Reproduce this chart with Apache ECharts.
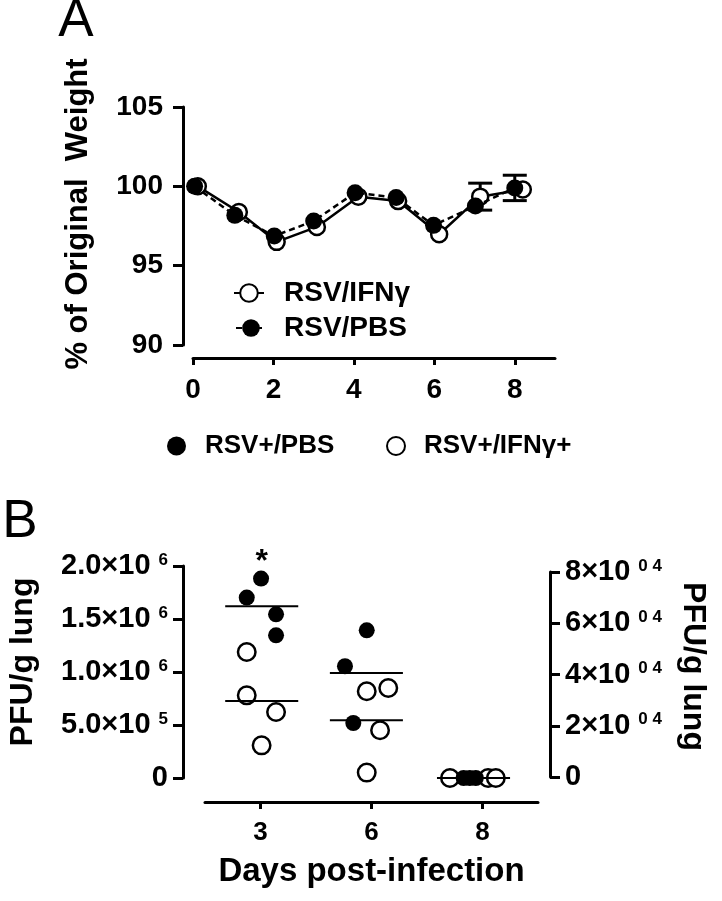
<!DOCTYPE html>
<html>
<head>
<meta charset="utf-8">
<script src="https://cdn.jsdelivr.net/npm/echarts@6/dist/echarts.min.js"></script>
<style>html,body{margin:0;padding:0;background:#fff}#c{width:722px;height:901px}</style>
</head>
<body>
<div id="c"></div>
<script>
// ---------- Panel A data (weight) ----------
const daysA = [0, 1, 2, 3, 4, 5, 6, 7, 8];
const xPBS_A = [0.04, 1.04, 2.02, 3.0, 4.03, 5.05, 5.98, 7.02, 8.0];
const xIFN_A = [0.12, 1.14, 2.08, 3.08, 4.11, 5.1, 6.12, 7.14, 8.2];
const weightPBS = [100, 98.17, 96.87, 97.81, 99.6, 99.29, 97.54, 98.76, 99.9];
const weightIFN = [100, 98.38, 96.5, 97.44, 99.35, 99.07, 96.98, 99.35, 99.8];
const errPBS = [0, 0, 0, 0, 0, 0, 0, 0, 0.8];
const errIFN = [0, 0, 0, 0, 0, 0, 0, 0.85, 0];
const xTicksA = [0, 2, 4, 6, 8];

// ---------- Panel B data (PFU/g lung) ----------
const categoriesB = ['3', '6', '8'];
const pbsX = [0.005, -0.124, 0.14, 0.14, 0.957, 0.761, 0.836, 1.83, 1.885, 1.94];
const pbsY = [1.881e6, 1.702e6, 1.544e6, 1.346e6, 1.393e6, 1.054e6, 0.519e6, 0, 0, 0];
const ifnX = [-0.124, -0.124, 0.14, 0.01, 0.957, 1.151, 1.077, 0.957, 1.707, 2.05, 2.12];
const ifnY = [1.189e6, 0.780e6, 0.623e6, 0.308e6, 0.818e6, 0.849e6, 0.450e6, 0.051e6, 0, 0, 0];
const meanX = [0.011, 0.954, 1.919];
const meanPBS = [1.620e6, 0.991e6, 0];
const meanIFN = [0.726e6, 0.544e6, 0];
const sigX = [0.01];
const sigY = [2.0e6];
const leftTickMant = ['0', '5.0×10', '1.0×10', '1.5×10', '2.0×10'];
const leftTickExp = ['', '5', '6', '6', '6'];
const rightTickMant = ['0', '2×10', '4×10', '6×10', '8×10'];
const rightTickExp = ['', '0 4', '0 4', '0 4', '0 4'];

const K = '#000';
const FONT = '"Liberation Sans", Arial, Helvetica, sans-serif';
const zip = (xs, ys) => xs.map((x, i) => [x, ys[i]]);

function errorSeries(xs, ys, es) {
  return {
    type: 'custom', xAxisIndex: 0, yAxisIndex: 0, silent: true, z: 2,
    data: xs.map((x, i) => [x, ys[i], es[i]]).filter(d => d[2] > 0),
    renderItem(params, api) {
      const x = api.value(0), y = api.value(1), e = api.value(2);
      const t = api.coord([x, y + e]), b = api.coord([x, y - e]);
      const hw = 12, st = { stroke: K, lineWidth: 3 };
      return { type: 'group', children: [
        { type: 'line', shape: { x1: t[0], y1: t[1], x2: b[0], y2: b[1] }, style: st },
        { type: 'line', shape: { x1: t[0] - hw, y1: t[1], x2: t[0] + hw, y2: t[1] }, style: st },
        { type: 'line', shape: { x1: b[0] - hw, y1: b[1], x2: b[0] + hw, y2: b[1] }, style: st }
      ] };
    }
  };
}
function meanSeries(ys) {
  return {
    type: 'custom', xAxisIndex: 2, yAxisIndex: 1, silent: true, z: 10,
    data: zip(meanX, ys),
    renderItem(params, api) {
      const x = api.value(0), y = api.value(1);
      const a = api.coord([x - 0.329, y]), b = api.coord([x + 0.329, y]);
      return { type: 'line', shape: { x1: a[0], y1: a[1], x2: b[0], y2: b[1] }, style: { stroke: K, lineWidth: 2 } };
    }
  };
}

const axisLine = { show: true, onZero: false, lineStyle: { color: K, width: 3 } };
const lblBase = { color: K, fontWeight: 'bold', fontFamily: FONT };
const rich = {
  b: { fontSize: 29, fontWeight: 'bold', fontFamily: FONT, color: K },
  s: { fontSize: 17, fontWeight: 'bold', fontFamily: FONT, color: K, verticalAlign: 'top', padding: [0, 0, 0, 8] },
  z: { fontSize: 29, fontWeight: 'bold', fontFamily: FONT, color: K }
};

const legText = (pad, size) => ({ color: K, fontSize: size, fontWeight: 'bold', fontFamily: FONT, padding: [0, 0, 0, pad] });

const option = {
  animation: false,
  backgroundColor: '#fff',
  grid: [
    { left: 193, top: 107, width: 362, height: 238 },
    { left: 205, top: 566, width: 333, height: 212 },
    { left: 205, top: 572, width: 333, height: 205 }
  ],
  xAxis: [
    { gridIndex: 0, type: 'value', min: 0, max: 9, offset: 13, axisLine,
      axisTick: { show: true, length: 7, lineStyle: { color: K, width: 3 }, customValues: xTicksA },
      axisLabel: Object.assign({ fontSize: 28, margin: 18, customValues: xTicksA }, lblBase),
      splitLine: { show: false } },
    { gridIndex: 1, type: 'category', data: categoriesB, offset: 24, axisLine,
      axisTick: { show: true, alignWithLabel: true, length: 7, lineStyle: { color: K, width: 3 } },
      axisLabel: Object.assign({ fontSize: 26, margin: 18 }, lblBase),
      name: 'Days post-infection', nameLocation: 'middle', nameGap: 53,
      nameTextStyle: { color: K, fontSize: 33, fontWeight: 'bold', fontFamily: FONT } },
    { gridIndex: 1, type: 'value', min: -0.5, max: 2.5, show: false },
    { gridIndex: 2, type: 'value', min: 0, max: 1, show: false }
  ],
  yAxis: [
    { gridIndex: 0, type: 'value', min: 90, max: 105, interval: 5, offset: 10, axisLine,
      axisTick: { show: true, length: 10, lineStyle: { color: K, width: 3 } },
      axisLabel: Object.assign({ fontSize: 28, margin: 20 }, lblBase),
      splitLine: { show: false } },
    { gridIndex: 1, type: 'value', min: 0, max: 2e6, interval: 5e5, offset: 22, axisLine,
      axisTick: { show: true, length: 10, lineStyle: { color: K, width: 3 } },
      axisLabel: { margin: 15, rich, formatter: (v, i) => i === 0 ? '{z|' + leftTickMant[i] + '}' : '{b|' + leftTickMant[i] + '}{s|' + leftTickExp[i] + '}' },
      splitLine: { show: false },
      name: 'PFU/g lung', nameLocation: 'middle', nameGap: 144,
      nameTextStyle: { color: K, fontSize: 32, fontWeight: 'bold', fontFamily: FONT, padding: [0, 0, 0, 20] } },
    { gridIndex: 2, type: 'value', position: 'right', min: 0, max: 80000, interval: 20000, offset: 12, axisLine,
      axisTick: { show: true, length: 10, lineStyle: { color: K, width: 3 } },
      axisLabel: { margin: 15, rich, formatter: (v, i) => i === 0 ? '{z|' + rightTickMant[i] + '}' : '{b|' + rightTickMant[i] + '}{s|' + rightTickExp[i] + '}' },
      splitLine: { show: false },
      name: 'PFU/g lung', nameLocation: 'middle', nameGap: 127, nameRotate: -90,
      nameTextStyle: { color: K, fontSize: 32, fontWeight: 'bold', fontFamily: FONT, padding: [0, 16, 0, 0] } }
  ],
  legend: [
    { data: ['RSV/IFNγ'], left: 233, top: 279, padding: 0, itemWidth: 30, itemHeight: 22, textStyle: legText(15, 28), selectedMode: false },
    { data: ['RSV/PBS'], left: 235, top: 314, padding: 0, itemWidth: 30, itemHeight: 22, textStyle: legText(13, 28), selectedMode: false },
    { data: ['RSV+/PBS'], left: 167, top: 433, padding: 0, itemWidth: 19, itemHeight: 19, textStyle: legText(14, 26), selectedMode: false },
    { data: ['RSV+/IFNγ+'], left: 386, top: 433, padding: 0, itemWidth: 18, itemHeight: 18, textStyle: legText(14, 26), selectedMode: false }
  ],
  graphic: [
    { type: 'text', x: 76, y: 21, style: { text: 'A', fontSize: 53, fontFamily: FONT, fill: K, align: 'center', verticalAlign: 'middle' } },
    { type: 'text', x: 20, y: 522, style: { text: 'B', fontSize: 53, fontFamily: FONT, fill: K, align: 'center', verticalAlign: 'middle' } },
    { type: 'text', x: 78, y: 214, rotation: Math.PI / 2, style: { text: '% of Original  Weight', fontSize: 31, fontWeight: 'bold', fontFamily: FONT, fill: K, align: 'center', verticalAlign: 'middle' } }
  ],
  series: [
    errorSeries(xIFN_A, weightIFN, errIFN),
    errorSeries(xPBS_A, weightPBS, errPBS),
    { name: 'RSV/IFNγ', type: 'line', xAxisIndex: 0, yAxisIndex: 0, data: zip(xIFN_A, weightIFN),
      symbol: 'circle', symbolSize: 16, showSymbol: true, z: 3, emphasis: { disabled: true },
      itemStyle: { color: '#fff', borderColor: K, borderWidth: 2.5, opacity: 1 },
      lineStyle: { color: K, width: 2.5, type: 'solid' } },
    { name: 'RSV/PBS', type: 'line', xAxisIndex: 0, yAxisIndex: 0, data: zip(xPBS_A, weightPBS),
      symbol: 'circle', symbolSize: 17, showSymbol: true, z: 4, emphasis: { disabled: true },
      itemStyle: { color: K, borderColor: K, borderWidth: 0, opacity: 1 },
      lineStyle: { color: K, width: 2.5, type: [6, 4] } },
    { name: 'RSV+/IFNγ+', type: 'scatter', xAxisIndex: 2, yAxisIndex: 1, data: zip(ifnX, ifnY),
      symbol: 'circle', symbolSize: 17.5, z: 3, emphasis: { disabled: true },
      itemStyle: { color: '#fff', borderColor: K, borderWidth: 2.5, opacity: 1 } },
    { name: 'RSV+/PBS', type: 'scatter', xAxisIndex: 2, yAxisIndex: 1, data: zip(pbsX, pbsY),
      symbol: 'circle', symbolSize: 16, z: 4, emphasis: { disabled: true },
      itemStyle: { color: K, opacity: 1 } },
    meanSeries(meanPBS),
    meanSeries(meanIFN),
    { type: 'scatter', xAxisIndex: 2, yAxisIndex: 1, data: zip(sigX, sigY), symbolSize: 0, silent: true, z: 11,
      itemStyle: { opacity: 1 },
      label: { show: true, position: 'inside', offset: [0, -4], formatter: '*', color: K, fontSize: 32, fontWeight: 'bold', fontFamily: FONT } }
  ]
};

const chart = echarts.init(document.getElementById('c'), null, { renderer: 'canvas' });
chart.setOption(option);
</script>
</body>
</html>
